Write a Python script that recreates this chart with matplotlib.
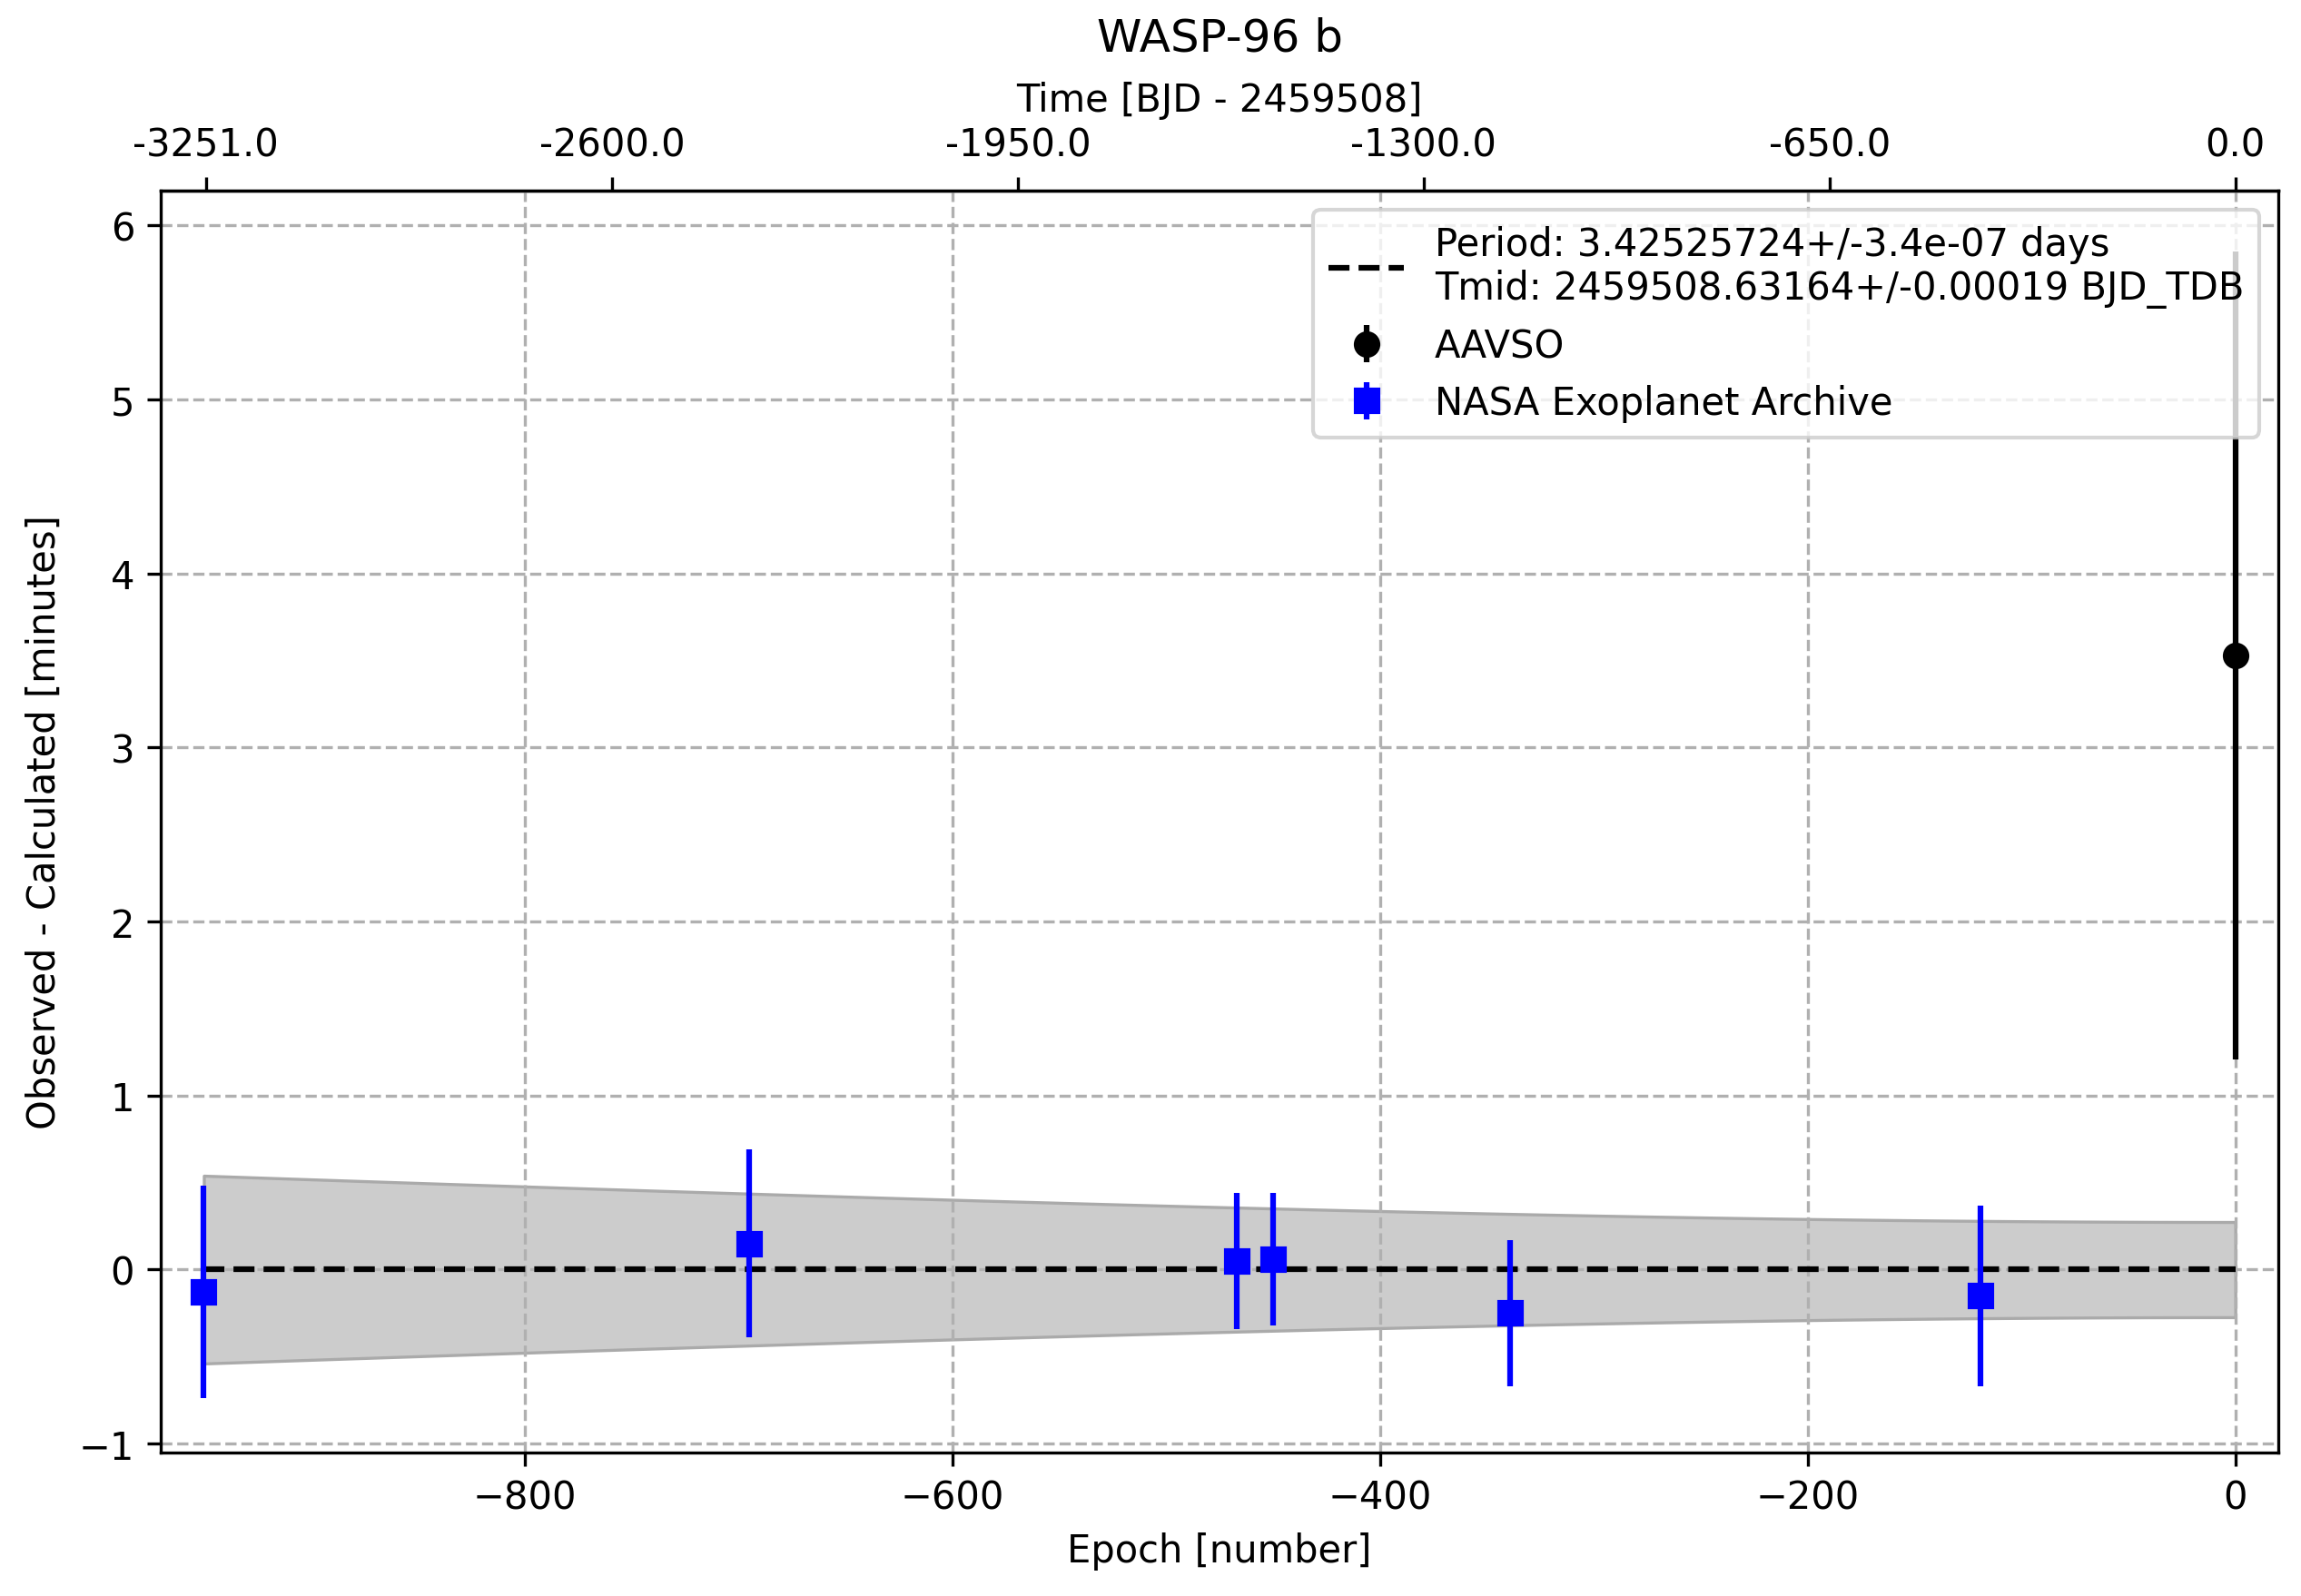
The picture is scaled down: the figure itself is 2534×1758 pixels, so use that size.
import numpy as np
import matplotlib.pyplot as plt

period = 3.42525724
period_err = 3.4e-07
tmid_err = 0.00019

nasa_epoch = [-950, -695, -467, -450, -339, -119]
nasa_oc = [-0.13, 0.15, 0.05, 0.06, -0.25, -0.15]
nasa_err = [0.61, 0.54, 0.39, 0.38, 0.42, 0.52]

aavso_epoch = [0]
aavso_oc = [3.53]
aavso_err = [2.32]

top_ticks = [-3251.0, -2600.0, -1950.0, -1300.0, -650.0, 0.0]

fig, ax = plt.subplots(figsize=(8.447, 5.863), dpi=300)
fig.subplots_adjust(left=0.07, right=0.99, bottom=0.09, top=0.88)

ep = np.linspace(-950, 0, 200)
band = np.sqrt(tmid_err**2 + (ep * period_err)**2) * 24 * 60
ax.fill_between(ep, -band, band, color='#cccccc', edgecolor='#aaaaaa', lw=0.8)
ax.plot([-950, 0], [0, 0], 'k--', lw=1.5,
        label=f"Period: {period}+/-{period_err} days\nTmid: 2459508.63164+/-{tmid_err} BJD_TDB")
ax.errorbar(aavso_epoch, aavso_oc, yerr=aavso_err, fmt='o', color='black', label='AAVSO')
ax.errorbar(nasa_epoch, nasa_oc, yerr=nasa_err, fmt='s', color='blue', label='NASA Exoplanet Archive')

ax.set_xlim(-970, 20)
ax.set_ylim(-1.05, 6.2)
ax.grid(True, ls='--')
ax.set_xlabel('Epoch [number]')
ax.set_ylabel('Observed - Calculated [minutes]')
ax.legend(loc='upper right')

top = ax.secondary_xaxis('top', functions=(lambda e: e * period, lambda t: t / period))
top.set_xticks(top_ticks)
top.set_xticklabels([f"{t:.1f}" for t in top_ticks])
top.set_xlabel('Time [BJD - 2459508]')
ax.set_title('WASP-96 b', pad=8, fontsize=12)
fig.text(0.5, 0.965, '', ha='center')

fig.savefig('out.png')
